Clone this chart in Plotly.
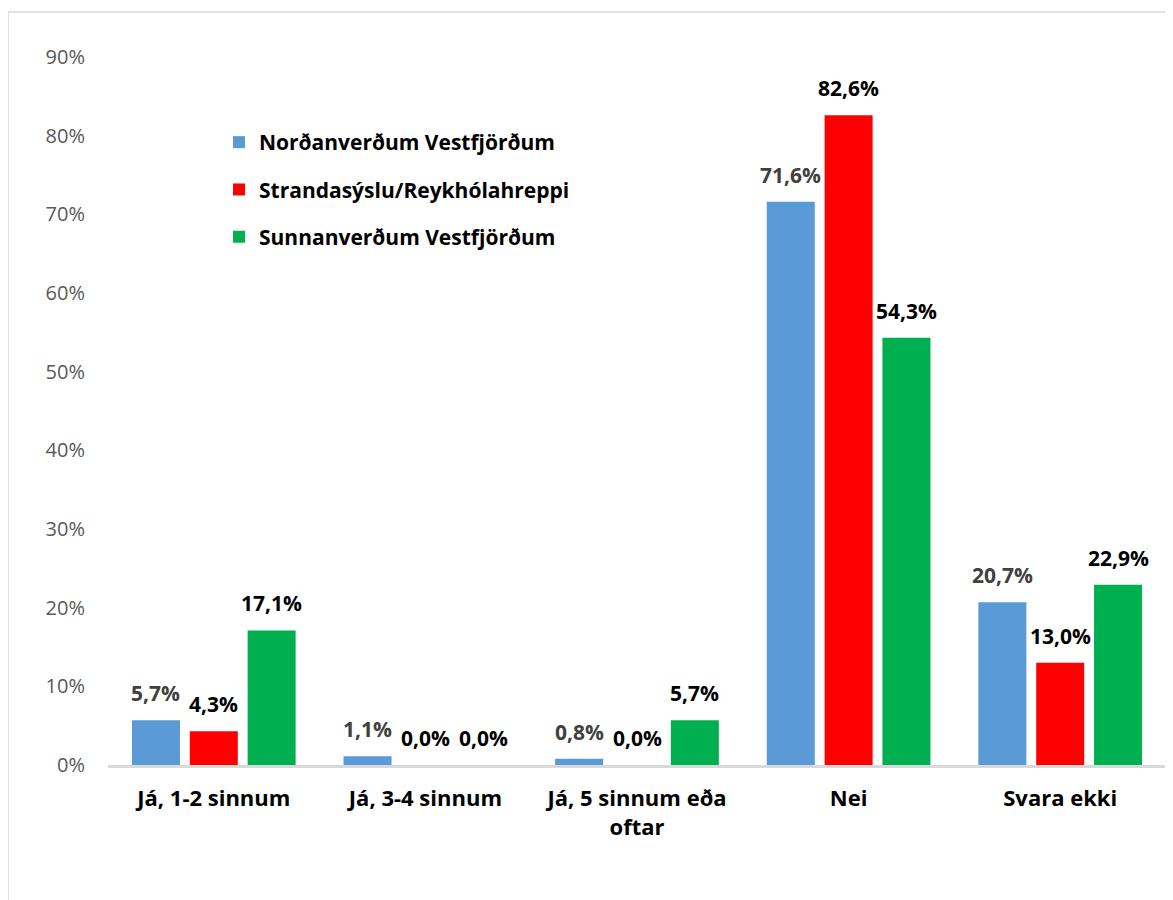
import plotly.graph_objects as go

categories = ["Já, 1-2 sinnum", "Já, 3-4 sinnum", "Já, 5 sinnum eða<br>oftar", "Nei", "Svara ekki"]
series_names = ["Norðanverðum Vestfjörðum", "Strandasýslu/Reykhólahreppi", "Sunnanverðum Vestfjörðum"]
nordan = [0.057, 0.011, 0.008, 0.716, 0.207]
strand = [0.043, 0.0, 0.0, 0.826, 0.130]
sunnan = [0.171, 0.0, 0.057, 0.543, 0.229]
y_ticks = [0, 0.1, 0.2, 0.3, 0.4, 0.5, 0.6, 0.7, 0.8, 0.9]

colors = ["#5A9AD6", "#FF0000", "#00B050"]
label_colors = ["#404040", "#000000", "#000000"]

# page body has an 8px margin, so the figure is placed at (8, 8)
OFF = 8
W, H = 1173 - OFF, 900 - OFF
ML, MR, MT, MB = 108 - OFF, 7, 57 - OFF, 135
plot_w = W - ML - MR
plot_h = H - MT - MB
bargap = 0.18
bargroupgap = 0.17
FONT = "Open Sans"

fig = go.Figure()
all_series = [nordan, strand, sunnan]
for i, (name, vals) in enumerate(zip(series_names, all_series)):
    fig.add_trace(go.Bar(
        x=categories, y=vals, name=name,
        marker=dict(color=colors[i], line=dict(width=0)),
        legendgroup=f"g{i}",
    ))

cat_w = plot_w / len(categories)
slot = cat_w * (1 - bargap) / 3
annotations = []
for i, vals in enumerate(all_series):
    for c, v in zip(categories, vals):
        annotations.append(dict(
            x=c, y=v, xref="x", yref="y",
            text=f"{v*100:.1f}%".replace(".", ","),
            showarrow=False, xshift=(i - 1) * slot, yshift=27,
            yanchor="middle", xanchor="center",
            font=dict(family=FONT, size=21, color=label_colors[i], weight="bold"),
        ))

# outer chart border (in paper coords)
bx0 = (8 - OFF - ML) / plot_w
by1 = (H - MB - (12 - OFF)) / plot_h

fig.update_layout(
    width=W, height=H,
    margin=dict(l=ML, r=MR, t=MT, b=MB),
    paper_bgcolor="white", plot_bgcolor="white",
    barmode="group", bargap=bargap, bargroupgap=bargroupgap,
    separators=",.",
    showlegend=True,
    legend=dict(
        x=(219 - OFF - ML) / plot_w, y=(H - MB - (122 - OFF)) / plot_h,
        xanchor="left", yanchor="top",
        font=dict(family=FONT, size=21, color="#000000", weight="bold"),
        tracegroupgap=17, bgcolor="rgba(0,0,0,0)",
    ),
    annotations=annotations,
    shapes=[dict(type="rect", xref="paper", yref="paper",
                 x0=bx0, x1=1.2, y0=-0.5, y1=by1,
                 line=dict(color="#D9D9D9", width=1.5), layer="below")],
    xaxis=dict(
        showline=True, linecolor="#D9D9D9", linewidth=2.5,
        ticks="", showgrid=False,
        tickfont=dict(family=FONT, size=22, color="#000000", weight="bold"),
        ticklabelstandoff=12,
    ),
    yaxis=dict(
        range=[0, 0.9], tickvals=y_ticks, tickformat=".0%",
        showline=False, showgrid=False, zeroline=False, ticks="",
        tickfont=dict(family=FONT, size=20, color="#595959"),
        ticklabelstandoff=22,
    ),
)

fig.write_html("out.html")
